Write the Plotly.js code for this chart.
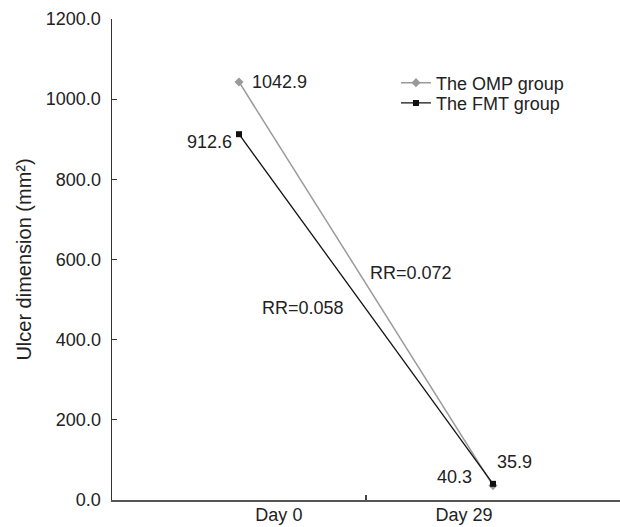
<!DOCTYPE html>
<html>
<head>
<meta charset="utf-8">
<script src="https://cdn.plot.ly/plotly-3.0.1.min.js"></script>
<style>html,body{margin:0;padding:0;background:#fff}#chart{width:620px;height:527px}</style>
</head>
<body>
<div id="chart"></div>
<script>
// Data
var categories = ["Day 0", "Day 29"];
var seriesNames = ["The OMP group", "The FMT group"];
var ompValues = [1042.9, 35.9];
var fmtValues = [912.6, 40.3];
var rrTexts = ["RR=0.072", "RR=0.058"];
var yTicks = [0, 200, 400, 600, 800, 1000, 1200];

var xIdx = categories.map(function (c, i) { return i; });
var font = "Liberation Sans, Arial, Helvetica, sans-serif";
var txt = "#222";
var fs = 18;

var traces = [
  {
    x: xIdx, y: ompValues, name: seriesNames[0], type: "scatter", mode: "lines+markers",
    line: {color: "#9a9a9a", width: 1.5},
    marker: {symbol: "diamond", size: 7, color: "#9a9a9a"},
    legend: "legend"
  },
  {
    x: xIdx, y: fmtValues, name: seriesNames[1], type: "scatter", mode: "lines+markers",
    line: {color: "#111", width: 1.3},
    marker: {symbol: "square", size: 6, color: "#111"},
    legend: "legend2"
  },
  // invisible trace on the label axis
  {x: xIdx, y: ompValues, xaxis: "x2", mode: "none", showlegend: false, hoverinfo: "skip"}
];

function fmt(v) { return v.toFixed(1); }
var annotations = [
  {x: xIdx[0], y: ompValues[0], text: fmt(ompValues[0]), xanchor: "left", yanchor: "middle", xshift: 11, yshift: 0},
  {x: xIdx[1], y: ompValues[1], text: fmt(ompValues[1]), xanchor: "left", yanchor: "middle", xshift: 2, yshift: 24},
  {x: xIdx[0], y: fmtValues[0], text: fmt(fmtValues[0]), xanchor: "right", yanchor: "middle", xshift: -5, yshift: -8},
  {x: xIdx[1], y: fmtValues[1], text: fmt(fmtValues[1]), xanchor: "right", yanchor: "middle", xshift: -19, yshift: 7},
  {x: 0.676, y: 566, text: rrTexts[0], xanchor: "center", yanchor: "middle"},
  {x: 0.251, y: 479, text: rrTexts[1], xanchor: "center", yanchor: "middle"}
].map(function (a) {
  a.xref = "x"; a.yref = "y"; a.showarrow = false;
  a.font = {family: font, size: fs, color: txt};
  return a;
});

function legendAt(y) {
  return {
    x: 0.559, y: y, xanchor: "left", yanchor: "middle",
    bgcolor: "rgba(0,0,0,0)", itemwidth: 30, borderwidth: 0,
    font: {family: font, size: fs, color: txt}
  };
}

var layout = {
  width: 620, height: 527,
  margin: {l: 112, r: 0, t: 19, b: 27},
  paper_bgcolor: "#fff", plot_bgcolor: "#fff",
  font: {family: font, size: fs, color: txt},
  showlegend: true,
  legend: legendAt(0.867),
  legend2: legendAt(0.825),
  xaxis: {
    range: [-0.5, 1.5], tickmode: "array", tickvals: [0.5], showticklabels: false,
    ticks: "inside", ticklen: 5, tickwidth: 1.2, tickcolor: "#444",
    showgrid: false, zeroline: false, showline: true, linecolor: "#555", linewidth: 2,
    fixedrange: true
  },
  xaxis2: {
    overlaying: "x", matches: "x", side: "bottom", range: [-0.5, 1.5],
    tickmode: "array", tickvals: [0.157, 0.886], ticktext: categories,
    ticks: "", showgrid: false, zeroline: false, showline: false,
    ticklabelstandoff: 2,
    tickfont: {family: font, size: fs, color: txt}
  },
  yaxis: {
    range: [0, 1200], tickmode: "array", tickvals: yTicks, tickformat: ".1f",
    ticks: "inside", ticklen: 5, tickwidth: 1.2, tickcolor: "#333",
    ticklabelstandoff: 6,
    showgrid: false, zeroline: false, showline: true, linecolor: "#333", linewidth: 1.5,
    tickfont: {family: font, size: fs, color: txt},
    title: {text: "Ulcer dimension (mm²)", font: {family: font, size: 20, color: txt}, standoff: 9}
  },
  annotations: annotations
};

Plotly.newPlot("chart", traces, layout, {displayModeBar: false, staticPlot: true});
</script>
</body>
</html>
